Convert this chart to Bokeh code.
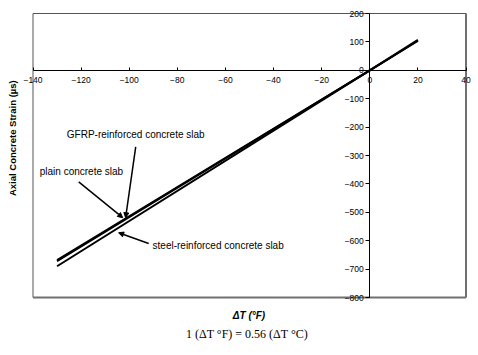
import math
from bokeh.plotting import figure
from bokeh.models import Range1d, LinearAxis, FixedTicker, Label, Arrow, NormalHead
from bokeh.embed import file_html
from bokeh.resources import INLINE

# data
delta_t = [-130, 0, 20]
plain_slab = [-668, 0, 104]
gfrp_slab = [-672, 0, 104]
steel_slab = [-690, 0, 107]

x_ticks = [-140, -120, -100, -80, -60, -40, -20, 0, 20, 40]
y_ticks = [-800, -700, -600, -500, -400, -300, -200, -100, 0, 100, 200]

FONT = "Liberation Sans"
W, H = 478, 355
# pixel geometry of the plotting box in the reference
BOX_L, BOX_R, BOX_T, BOX_B = 32.5, 465.5, 13.0, 297.0

xs = (BOX_R - BOX_L) / (x_ticks[-1] - x_ticks[0])
ys = (BOX_B - BOX_T) / (y_ticks[-1] - y_ticks[0])
x0 = x_ticks[0] - BOX_L / xs
x1 = x_ticks[0] + (W - BOX_L) / xs
y1 = y_ticks[-1] + BOX_T / ys
y0 = y_ticks[-1] - (H - BOX_T) / ys

p = figure(width=W, height=H, x_range=Range1d(x0, x1), y_range=Range1d(y0, y1),
           output_backend="svg", toolbar_location=None,
           x_axis_type=None, y_axis_type=None,
           min_border=0)
p.grid.visible = False
p.outline_line_color = None
p.background_fill_color = "white"
p.border_fill_color = "white"

# plot box
p.quad(left=[x_ticks[0]], right=[x_ticks[-1]], bottom=[y_ticks[0]], top=[y_ticks[-1]],
       fill_color=None, line_color="#555555", line_width=1)
p.segment(x0=[x_ticks[-1], x_ticks[0]], y0=[y_ticks[-1], y_ticks[0]],
          x1=[x_ticks[-1], x_ticks[-1]], y1=[y_ticks[0], y_ticks[0]],
          line_color="#707070", line_width=2)

xa = LinearAxis(fixed_location=0, ticker=FixedTicker(ticks=x_ticks),
                bounds=(x_ticks[0], x_ticks[-1]))
xa.major_tick_in = 3
xa.major_tick_out = 0
xa.minor_tick_line_color = None
xa.major_label_standoff = 7
xa.major_label_text_font = FONT
xa.major_label_text_font_size = "8.5px"
xa.major_label_text_color = "black"
xa.axis_line_color = "black"
p.add_layout(xa, "below")

ya = LinearAxis(fixed_location=0, ticker=FixedTicker(ticks=y_ticks),
                bounds=(y_ticks[0], y_ticks[-1]))
ya.major_tick_in = 0
ya.major_tick_out = 4
ya.minor_tick_line_color = None
ya.major_label_standoff = 2
ya.major_label_text_font = FONT
ya.major_label_text_font_size = "8.5px"
ya.major_label_text_color = "black"
ya.axis_line_color = "black"
p.add_layout(ya, "left")

for series in (plain_slab, gfrp_slab, steel_slab):
    p.line(delta_t, series, line_color="black", line_width=2)


def lab(x, y, text, align="left", size="10px", style="normal", font=FONT, angle=0.0):
    p.add_layout(Label(x=x, y=y, text=text, text_align=align, text_baseline="middle",
                       text_font=font, text_font_size=size, text_font_style=style,
                       text_color="black", angle=angle))


lab(-97.3, -225, "GFRP-reinforced concrete slab", align="center")
lab(-137.2, -357, "plain concrete slab")
lab(-90.3, -617, "steel-reinforced concrete slab")

head = dict(size=5, fill_color="black", line_color="black")
p.add_layout(Arrow(x_start=-121.0, y_start=-393, x_end=-102.7, y_end=-519,
                   line_width=1.5, end=NormalHead(**head)))
p.add_layout(Arrow(x_start=-97.3, y_start=-270, x_end=-101.5, y_end=-519,
                   line_width=1.5, end=NormalHead(**head)))
p.add_layout(Arrow(x_start=-91.9, y_start=-610, x_end=-104.4, y_end=-572,
                   line_width=1.5, end=NormalHead(**head)))

lab(-148.5, -239, "Axial Concrete Strain (\u00b5s)", align="center", size="9.5px",
    style="bold", angle=math.pi / 2)
lab(-50.2, -863, "\u0394T (\u00b0F)", align="center", size="10px", style="bold italic")
lab(-51.0, -928, "1 (\u0394T \u00b0F) = 0.56 (\u0394T \u00b0C)", align="center", size="12px",
    font="Liberation Serif")

open("out.html", "w").write(file_html(p, INLINE))
